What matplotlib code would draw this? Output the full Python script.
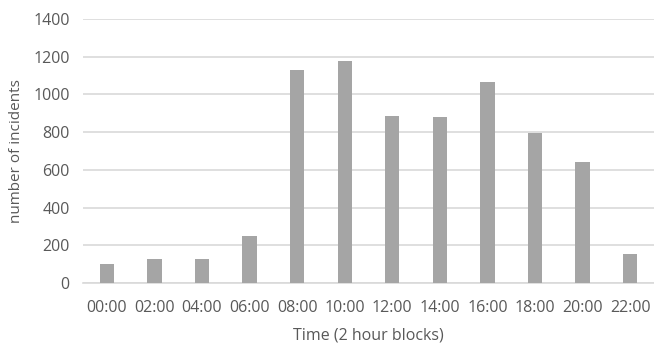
import matplotlib.pyplot as plt

# incidents per 2 hour block
time_blocks = ['00:00', '02:00', '04:00', '06:00', '08:00', '10:00',
               '12:00', '14:00', '16:00', '18:00', '20:00', '22:00']
incidents = [100, 130, 130, 249, 1127, 1176, 884, 878, 1063, 795, 640, 155]
y_ticks = [0, 200, 400, 600, 800, 1000, 1200, 1400]

text_col = '#595959'
grid_col = '#d9d9d9'
bar_col = '#a5a5a5'

plt.rcParams['font.family'] = ['Open Sans', 'DejaVu Sans']

fig = plt.figure(figsize=(6.54, 3.47), dpi=100)
ax = fig.add_axes([0.127, 0.1836, 0.873, 0.7624])

x = range(len(time_blocks))
ax.bar(x, incidents, width=0.3, color=bar_col, zorder=3)

ax.set_xlim(-0.5, len(time_blocks) - 0.5)
ax.set_ylim(0, 1400)
ax.set_yticks(y_ticks)
ax.set_xticks(list(x))
ax.set_xticklabels(time_blocks)

ax.yaxis.grid(True, color=grid_col, linewidth=1.2, zorder=0)
for side in ['top', 'right', 'left']:
    ax.spines[side].set_visible(False)
ax.spines['bottom'].set_color(grid_col)
ax.spines['bottom'].set_linewidth(1.2)
ax.tick_params(axis='both', length=0, colors=text_col, labelsize=11.5)
ax.tick_params(axis='y', pad=9.5)
ax.tick_params(axis='x', pad=12)

ax.set_xlabel('Time (2 hour blocks)', color=text_col, fontsize=11.5, labelpad=8)
ax.set_ylabel('number of incidents', color=text_col, fontsize=11, labelpad=7)

plt.savefig('out.png', dpi=100)
